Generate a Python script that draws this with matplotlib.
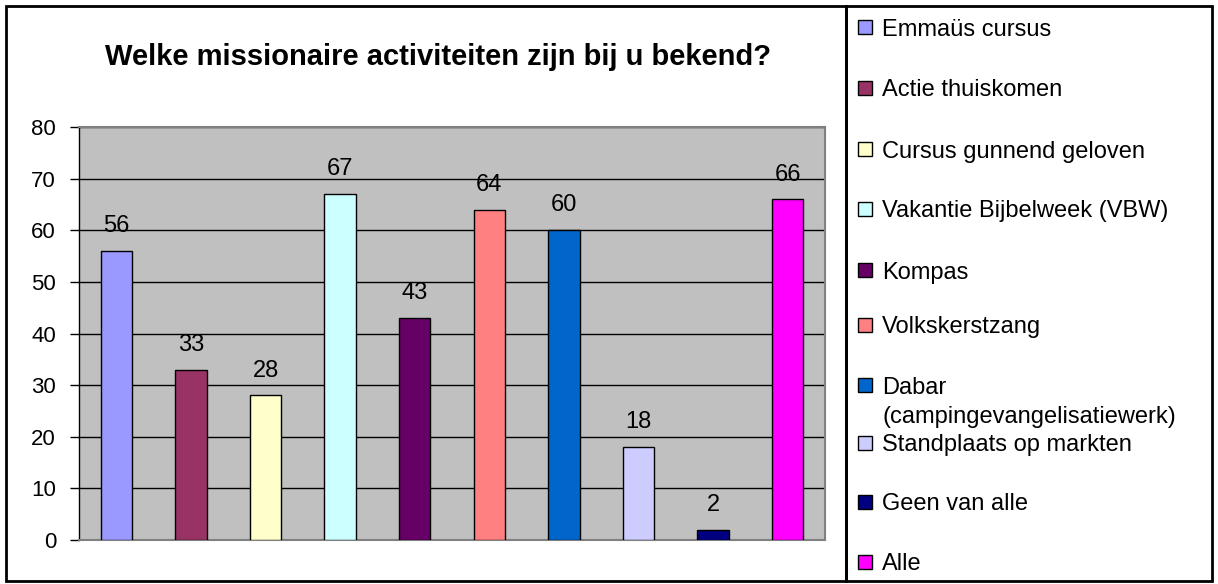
import matplotlib.pyplot as plt
from matplotlib.patches import Rectangle

plt.rcParams['font.family'] = ['Liberation Sans', 'DejaVu Sans']

# data
categories = ['Emmaüs cursus', 'Actie thuiskomen', 'Cursus gunnend geloven',
              'Vakantie Bijbelweek (VBW)', 'Kompas', 'Volkskerstzang',
              'Dabar\n(campingevangelisatiewerk)', 'Standplaats op markten',
              'Geen van alle', 'Alle']
values = [56, 33, 28, 67, 43, 64, 60, 18, 2, 66]
colors = ['#9999FF', '#993366', '#FFFFCC', '#CCFFFF', '#660066',
          '#FF8080', '#0066CC', '#CCCCFF', '#000080', '#FF00FF']
yticks = [0, 10, 20, 30, 40, 50, 60, 70, 80]
title = 'Welke missionaire activiteiten zijn bij u bekend?'

W, H = 1218, 584
fig = plt.figure(figsize=(W / 100, H / 100), dpi=100)

def fx(px):
    return px / W

def fy(py):
    return 1 - py / H

# outer frames (chart area + legend box)
fig.patches.append(Rectangle((fx(6), fy(581)), fx(846 - 6), (581 - 6) / H,
                             transform=fig.transFigure, fill=False,
                             edgecolor='black', linewidth=2))
fig.patches.append(Rectangle((fx(846), fy(581)), fx(1212 - 846), (581 - 6) / H,
                             transform=fig.transFigure, fill=False,
                             edgecolor='black', linewidth=2))

ax = fig.add_axes([fx(79), fy(540), fx(825 - 79), (540 - 127) / H])
ax.set_facecolor('#C0C0C0')
x = list(range(len(values)))
ax.bar(x, values, width=0.42, color=colors, edgecolor='black', linewidth=1, zorder=3)
for xi, v in zip(x, values):
    ax.annotate(str(v), (xi, v), xytext=(0, 13.5), textcoords='offset points',
                ha='center', va='baseline', fontsize=17, zorder=4)

ax.set_xlim(-0.5, len(values) - 0.5)
ax.set_ylim(0, 80)
ax.set_yticks(yticks)
ax.tick_params(axis='y', labelsize=16, length=6.5, width=1, direction='out', pad=10)
ax.set_xticks([])
ax.grid(axis='y', color='black', linewidth=1, zorder=1)
ax.set_axisbelow(True)
for s in ['top', 'right', 'bottom']:
    ax.spines[s].set_color('#808080')
    ax.spines[s].set_linewidth(1.5)
ax.spines['left'].set_color('black')
ax.spines['left'].set_linewidth(1)

fig.text(fx(438), fy(57), title, ha='center', va='center',
         fontsize=21, fontweight='bold')

# legend, placed by hand to follow the original spacing
leg_y = [27, 88, 149, 209, 270, 325, 385, 443, 502, 562]
for lbl, c, py in zip(categories, colors, leg_y):
    fig.patches.append(Rectangle((fx(858), fy(py + 7)), fx(14), 14 / H,
                                 transform=fig.transFigure, facecolor=c,
                                 edgecolor='black', linewidth=1))
    for i, line in enumerate(lbl.split('\n')):
        fig.text(fx(882), fy(py + 30 * i), line, ha='left', va='center_baseline',
                 fontsize=17)

fig.savefig('out.png', dpi=100)
